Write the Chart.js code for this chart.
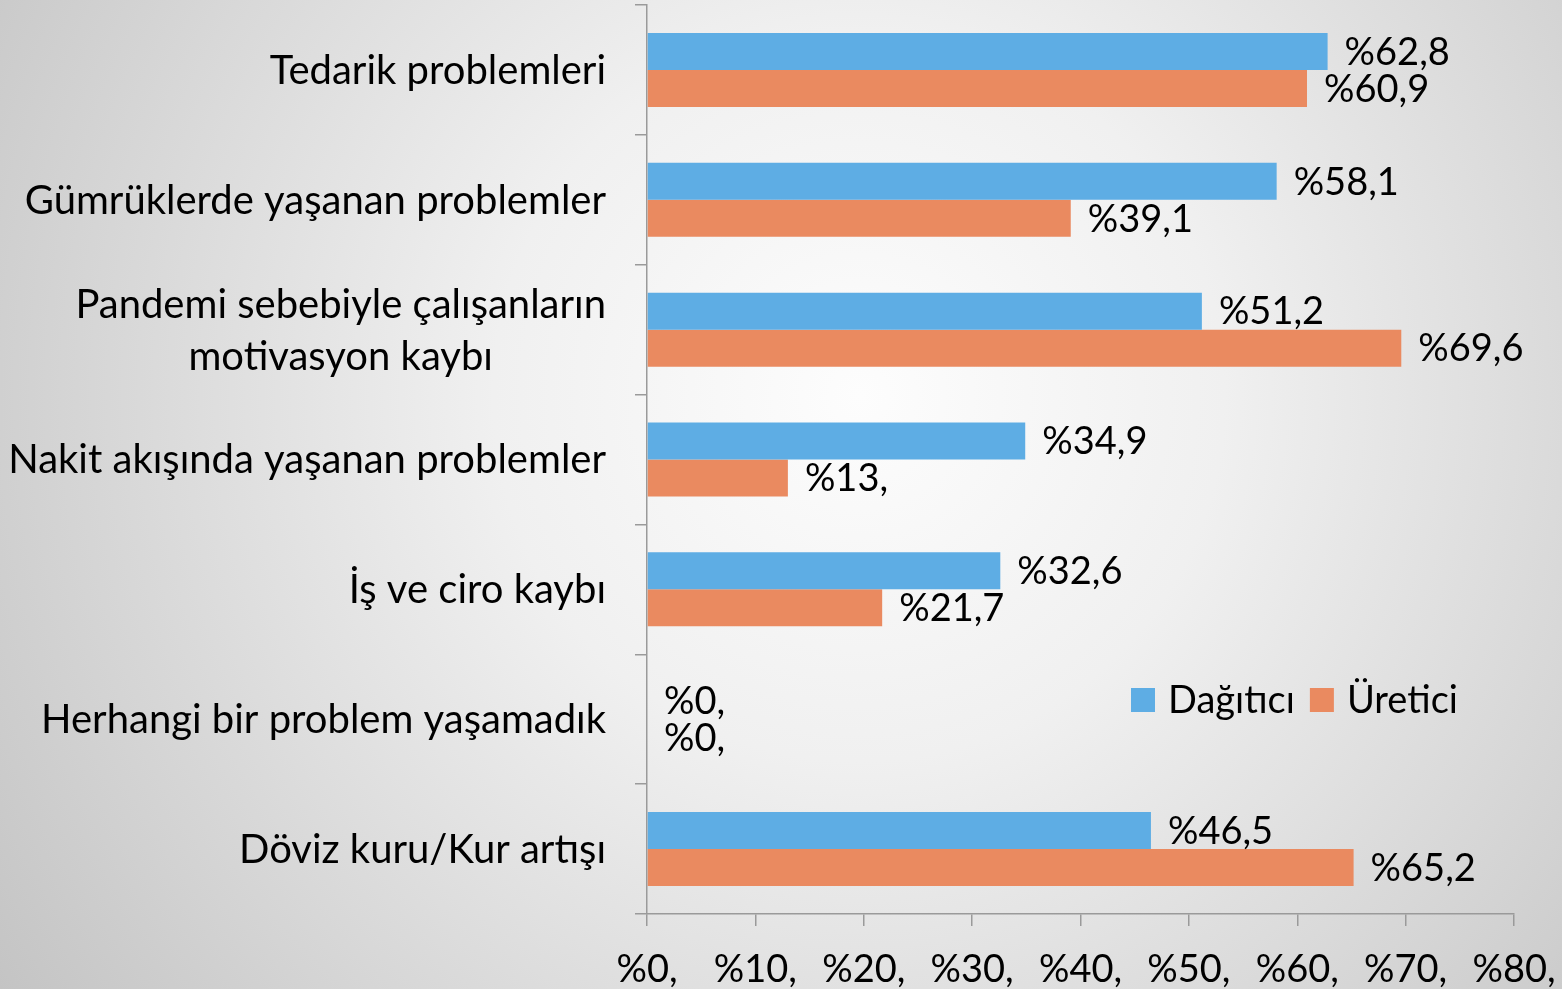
<!DOCTYPE html>
<html>
<head>
<meta charset="utf-8">
<script src="https://cdn.jsdelivr.net/npm/chart.js@4"></script>
<style>
html,body{margin:0;padding:0;overflow:hidden;}
body{width:1562px;height:989px;background:radial-gradient(circle at 55% 40%, #fdfdfd 0%, #f0f0f0 35%, #c4c4c4 100%);}
canvas{display:block;}
</style>
</head>
<body>
<canvas id="c" width="1562" height="989"></canvas>
<script>
const categories = [
  "Tedarik problemleri",
  "Gümrüklerde yaşanan problemler",
  ["Pandemi sebebiyle çalışanların", "motivasyon kaybı"],
  "Nakit akışında yaşanan problemler",
  "İş ve ciro kaybı",
  "Herhangi bir problem yaşamadık",
  "Döviz kuru/Kur artışı"
];
const dagiticiValues = [62.8, 58.1, 51.2, 34.9, 32.6, 0, 46.5];
const ureticiValues = [60.9, 39.1, 69.6, 13.0, 21.7, 0, 65.2];
const seriesNames = ["Dağıtıcı", "Üretici"];
const xTickValues = [0, 10, 20, 30, 40, 50, 60, 70, 80];

const BLUE = "#5eade4";
const ORANGE = "#ea8a60";
const FONT = "Lato, 'Open Sans', sans-serif";
const FS_CAT = 40;
const FS = 38;

function fmt(v) {
  if (Number.isInteger(v)) return "%" + v + ",";
  return "%" + String(v).replace(".", ",");
}

const valueLabels = {
  id: "valueLabels",
  afterDatasetsDraw(chart) {
    const ctx = chart.ctx;
    ctx.save();
    ctx.font = FS + "px " + FONT;
    ctx.fillStyle = "#000";
    ctx.textAlign = "left";
    ctx.textBaseline = "middle";
    chart.data.datasets.forEach((ds, di) => {
      const meta = chart.getDatasetMeta(di);
      meta.data.forEach((el, i) => {
        ctx.fillText(fmt(ds.data[i]), el.x + 17, el.y + 1);
      });
    });
    ctx.restore();
  }
};

const yLabels = {
  id: "yLabels",
  afterDraw(chart) {
    const ctx = chart.ctx;
    const ys = chart.scales.y;
    const rightX = chart.chartArea.left - 41;
    const lh = 52;
    ctx.save();
    ctx.font = FS_CAT + "px " + FONT;
    ctx.fillStyle = "#000";
    ctx.textBaseline = "middle";
    ctx.textAlign = "center";
    categories.forEach((lab, i) => {
      const lines = Array.isArray(lab) ? lab : [lab];
      let maxW = 0;
      lines.forEach(l => { maxW = Math.max(maxW, ctx.measureText(l).width); });
      const cx = rightX - maxW / 2;
      const yc = ys.getPixelForValue(i);
      lines.forEach((l, j) => {
        ctx.fillText(l, cx, yc + 1 + (j - (lines.length - 1) / 2) * lh);
      });
    });
    ctx.restore();
  }
};

const legendPlugin = {
  id: "customLegend",
  afterDraw(chart) {
    const ctx = chart.ctx;
    const ca = chart.chartArea;
    let x = ca.left + 484;
    const y = ca.top + 683;
    ctx.save();
    ctx.font = FS + "px " + FONT;
    ctx.textBaseline = "middle";
    ctx.textAlign = "left";
    chart.data.datasets.forEach((ds) => {
      ctx.fillStyle = ds.backgroundColor;
      ctx.fillRect(x, y, 24, 24);
      ctx.fillStyle = "#000";
      ctx.fillText(ds.label, x + 37, y + 13);
      x += 37 + ctx.measureText(ds.label).width + 15;
    });
    ctx.restore();
  }
};

new Chart(document.getElementById("c"), {
  type: "bar",
  data: {
    labels: categories,
    datasets: [
      { label: seriesNames[0], data: dagiticiValues, backgroundColor: BLUE, categoryPercentage: 0.57, barPercentage: 1.0 },
      { label: seriesNames[1], data: ureticiValues, backgroundColor: ORANGE, categoryPercentage: 0.57, barPercentage: 1.0 }
    ]
  },
  options: {
    indexAxis: "y",
    responsive: false,
    animation: false,
    layout: { padding: { top: 5, right: 48, left: 0, bottom: 0 } },
    plugins: { legend: { display: false }, tooltip: { enabled: false } },
    scales: {
      x: {
        min: 0, max: 80,
        afterBuildTicks(scale) { scale.ticks = xTickValues.map(v => ({ value: v })); },
        afterFit(scale) { scale.height = 75; scale.paddingLeft = 0; scale.paddingRight = 0; },
        grid: { drawOnChartArea: false, tickLength: 12, color: "#9a9a9a", lineWidth: 1.5 },
        border: { color: "#9a9a9a", width: 1.5 },
        ticks: {
          callback: v => fmt(v),
          font: { family: FONT, size: FS },
          color: "#000",
          padding: 21,
          maxRotation: 0,
          autoSkip: false
        }
      },
      y: {
        afterFit(scale) { scale.width = 647; scale.paddingTop = 0; scale.paddingBottom = 0; },
        grid: { offset: true, drawOnChartArea: false, tickLength: 12, color: "#9a9a9a", lineWidth: 1.5 },
        border: { color: "#9a9a9a", width: 1.5 },
        ticks: { display: false }
      }
    }
  },
  plugins: [valueLabels, yLabels, legendPlugin]
});
</script>
</body>
</html>
